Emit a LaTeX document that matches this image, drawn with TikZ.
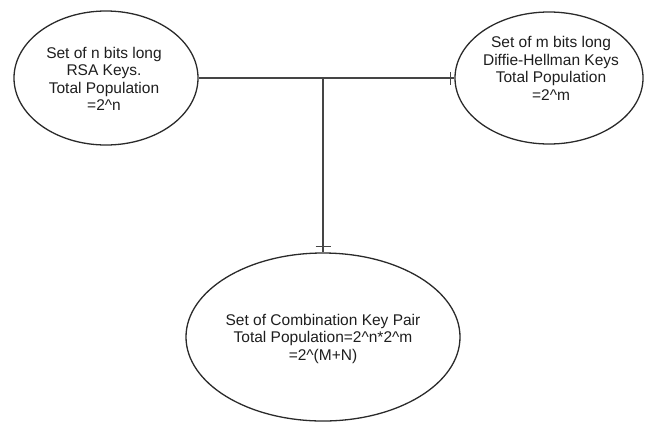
\documentclass[tikz,border=0pt]{standalone}
\usepackage{fontspec}
\setmainfont{Liberation Sans}
\usetikzlibrary{shapes.geometric}
\definecolor{edge}{HTML}{2A2A2A}
\definecolor{wire}{HTML}{454545}
\definecolor{ink}{HTML}{1E1E1E}
\tikzset{
  keyset/.style={ellipse, draw=edge, line width=1.3pt, inner sep=0pt},
  keytext/.style={align=center, text=ink, inner sep=0pt,
    font=\fontsize{15.5}{17.5}\selectfont},
  wireline/.style={draw=wire, line width=1.6pt},
  tickmark/.style={draw=wire, line width=1.3pt}
}
\begin{document}
\begin{tikzpicture}[x=1pt,y=-1pt]
\useasboundingbox (0,0) rectangle (647,421);
% ellipses
\node[keyset, minimum width=184pt, minimum height=134pt] (rsa) at (106,78) {};
\node[keyset, minimum width=188pt, minimum height=132pt] (dh) at (549,78) {};
\node[keyset, minimum width=274pt, minimum height=168pt] (comb) at (323,337) {};
% texts
\node[keytext] (rsatxt) at (104,79) {Set of n bits long\\RSA Keys.\\Total Population\\=2\^{}n};
\node[keytext] (dhtxt) at (551,68.5) {Set of m bits long\\Diffie-Hellman Keys\\Total Population\\=2\^{}m};
\node[keytext] (combtxt) at (323,338.5) {Set of Combination Key Pair\\Total Population=2\^{}n*2\^{}m\\=2\^{}(M+N)};
% connectors
\coordinate (j) at (323,78);
\draw[wireline] (rsa.east) -- (j) -- (dh.west);
\draw[wireline] (j) -- (comb.north);
% ticks
\draw[tickmark] ([xshift=-4pt,yshift=-6.5pt]dh.west) -- ([xshift=-4pt,yshift=6.5pt]dh.west);
\draw[tickmark] ([xshift=-7.5pt,yshift=6pt]comb.north) -- ([xshift=7.5pt,yshift=6pt]comb.north);
\end{tikzpicture}
\end{document}
